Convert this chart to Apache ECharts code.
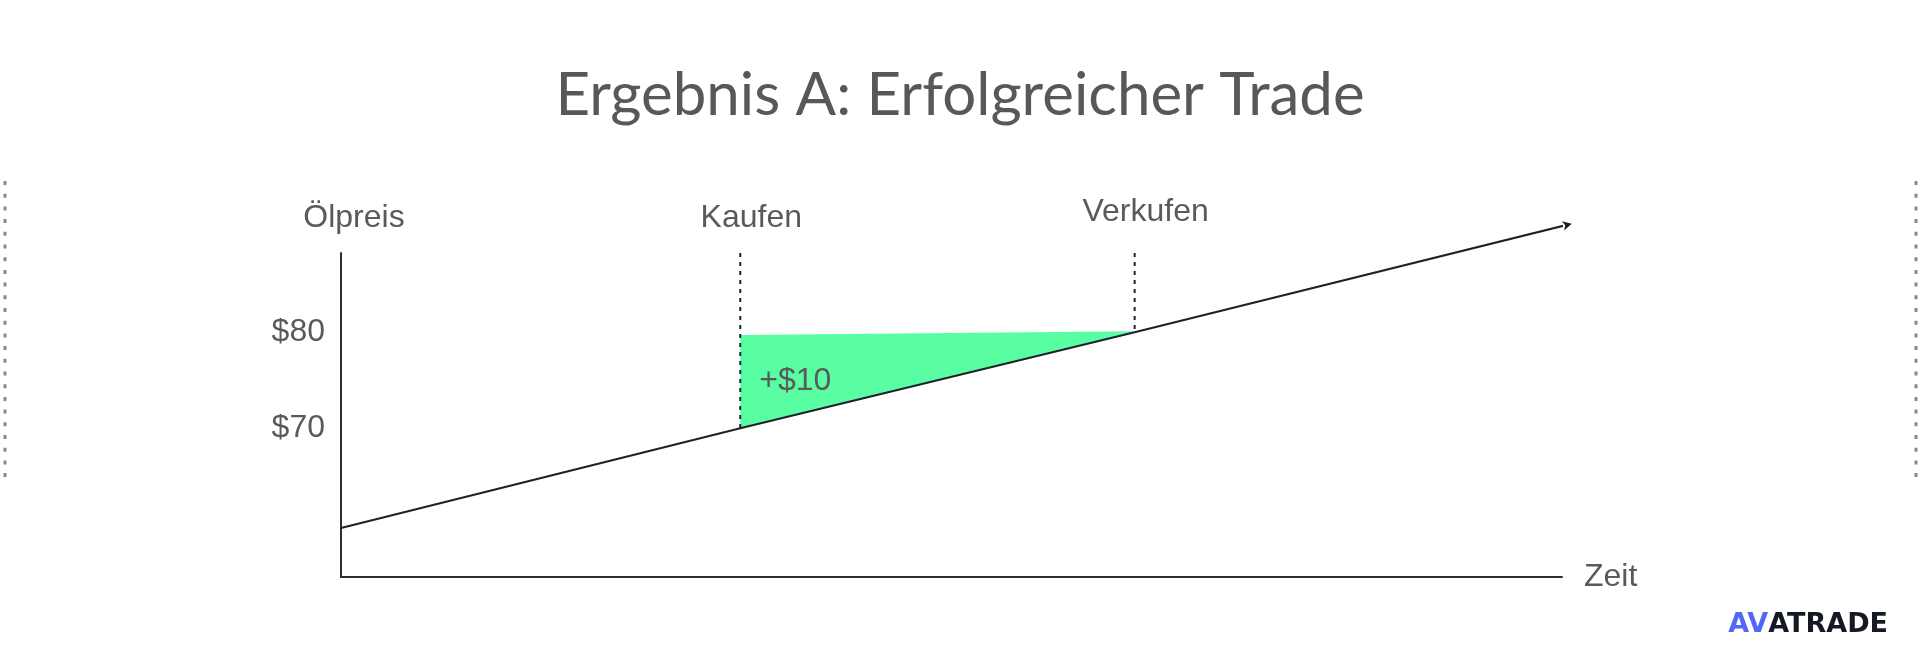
<!DOCTYPE html>
<html>
<head>
<meta charset="utf-8">
<title>Ergebnis A</title>
<style>
  html, body { margin: 0; padding: 0; background: #fff; }
  #main { width: 1920px; height: 664px; }
</style>
<script src="https://cdn.jsdelivr.net/npm/echarts@6/dist/echarts.min.js"></script>
</head>
<body>
<div id="main"></div>
<script>
// Zeitachse (0 = Achsenursprung, 100 = Ende der x-Achse)
var timeX = [0, 32.7, 65, 100.8];
// Ölpreis entlang der Linie
var priceY = [59.6, 70, 80, 91.3];
var buyX = 32.7, sellX = 65;
var buyPrice = 70, sellPrice = 80;
// Oberkante der grünen Fläche bei Kauf / Verkauf
var profitTop = [79.7, 80.1];
var priceTicks = [70, 80];
var priceMin = 54.5, priceMax = 88.25;

var labelFont = '"Liberation Sans", Arial, sans-serif';
var textColor = '#5a5a5a';
var lineColor = '#1c212b';

var lineData = timeX.map(function (x, i) {
  var item = { value: [x, priceY[i]] };
  if (i === timeX.length - 1) {
    item.symbol = 'arrow';
    item.symbolSize = [7, 9];
    item.symbolRotate = -76;
  }
  return item;
});

function markerLine(x, yTo, name, dist) {
  return {
    type: 'line',
    silent: true,
    z: 4,
    symbol: 'circle',
    symbolSize: 1,
    showSymbol: true,
    itemStyle: { color: 'transparent' },
    lineStyle: { color: lineColor, width: 2, type: [4, 5] },
    data: [
      {
        value: [x, priceMax],
        label: {
          show: true, position: 'top', distance: dist, offset: [11, 0],
          formatter: name, color: textColor, fontSize: 32, fontFamily: labelFont
        }
      },
      { value: [x, yTo] }
    ]
  };
}

var chart = echarts.init(document.getElementById('main'));
chart.setOption({
  animation: false,
  backgroundColor: '#fff',
  grid: { left: 341, top: 253, right: 358, bottom: 87 },
  xAxis: {
    type: 'value',
    min: 0, max: 100,
    axisLine: { lineStyle: { color: '#2b2e36', width: 2 } },
    axisTick: { show: false },
    axisLabel: { show: false },
    splitLine: { show: false },
    name: 'Zeit',
    nameLocation: 'end',
    nameGap: 22,
    nameTextStyle: { color: textColor, fontSize: 32, fontFamily: labelFont, padding: [0, 0, 10, 0] }
  },
  yAxis: {
    type: 'value',
    min: priceMin, max: priceMax,
    axisLine: { show: true, lineStyle: { color: '#2b2e36', width: 2 } },
    axisTick: { show: false },
    splitLine: { show: false },
    axisLabel: {
      customValues: priceTicks,
      formatter: function (v) { return '$' + v; },
      margin: 16,
      color: textColor, fontSize: 32, fontFamily: labelFont
    },
    name: 'Ölpreis',
    nameLocation: 'end',
    nameGap: 19,
    nameTextStyle: { color: textColor, fontSize: 32, fontFamily: labelFont, padding: [0, 0, 0, 26] }
  },
  graphic: [
    {
      type: 'text', x: 960, y: 96,
      style: { text: 'Ergebnis A: Erfolgreicher Trade', font: '60px Lato', fill: '#585858', align: 'center', verticalAlign: 'middle' }
    },
    {
      type: 'line', shape: { x1: 5, y1: 181, x2: 5, y2: 477 },
      style: { stroke: '#8a8a8a', lineWidth: 3, lineDash: [4, 8.7] }
    },
    {
      type: 'line', shape: { x1: 1916, y1: 181, x2: 1916, y2: 477 },
      style: { stroke: '#8a8a8a', lineWidth: 3, lineDash: [4, 8.7] }
    },
    {
      type: 'text', x: 1888, y: 625,
      style: {
        text: '{b|AV}{d|ATRADE}',
        align: 'right', verticalAlign: 'middle',
        rich: {
          b: { font: 'bold 27px "DejaVu Sans"', fill: '#5466f6' },
          d: { font: 'bold 27px "DejaVu Sans"', fill: '#141923' }
        }
      }
    }
  ],
  series: [
    {
      type: 'custom',
      silent: true,
      z: 1,
      data: [[buyX, buyPrice, sellX, sellPrice]],
      encode: { x: [0, 2], y: [1, 3] },
      renderItem: function (params, api) {
        var bx = api.value(0), bp = api.value(1), sx = api.value(2), sp = api.value(3);
        var p1 = api.coord([bx, profitTop[0]]);
        var p2 = api.coord([sx, profitTop[1]]);
        var p3 = api.coord([sx, sp]);
        var p4 = api.coord([bx, bp]);
        var mid = api.coord([bx, (bp + sp) / 2]);
        return {
          type: 'group',
          children: [
            { type: 'polygon', shape: { points: [p1, p2, p3, p4] }, style: { fill: '#58fea1' } },
            {
              type: 'text', x: p4[0] + 19, y: mid[1] + 1,
              style: {
                text: '+$' + (sp - bp), font: '32px ' + labelFont, fill: textColor,
                align: 'left', verticalAlign: 'middle'
              }
            }
          ]
        };
      }
    },
    {
      type: 'line',
      silent: true,
      z: 3,
      clip: false,
      symbol: 'none',
      showSymbol: true,
      itemStyle: { color: lineColor },
      lineStyle: { color: lineColor, width: 2 },
      data: lineData
    },
    markerLine(buyX, buyPrice, 'Kaufen', 18),
    markerLine(sellX, sellPrice, 'Verkufen', 24)
  ]
});
</script>
</body>
</html>
